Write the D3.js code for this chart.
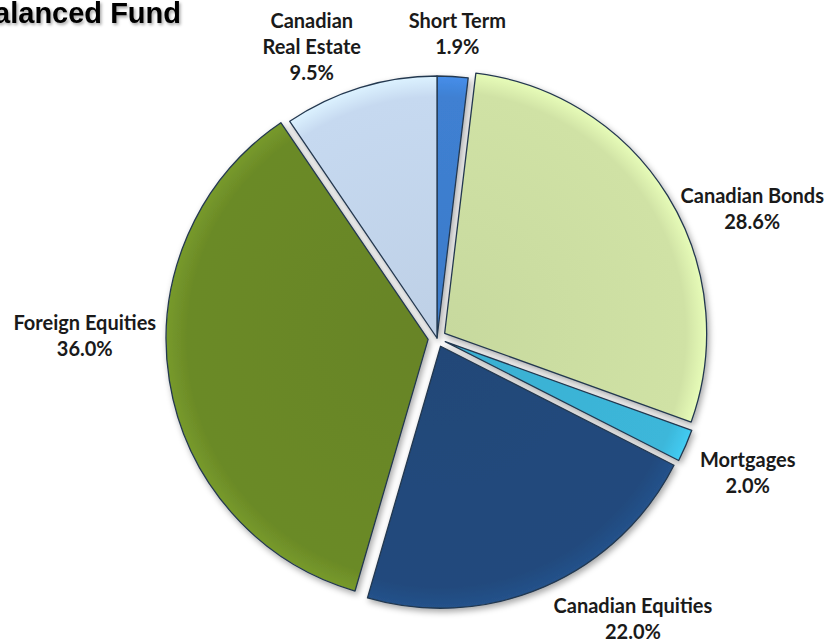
<!DOCTYPE html>
<html lang="en">
<head>
  <meta charset="UTF-8">
  <title>Balanced Fund</title>
  <script src="https://d3js.org/d3.v7.min.js"></script>
  <style>
    body { margin: 0; background: #fff; }
    svg { display: block; }
    .title { font: bold 29px "Liberation Sans", Arial, sans-serif; fill: #000; }
    .label { font: bold 20px Lato, "Open Sans", sans-serif; fill: #1a1a1a; text-anchor: middle; }
  </style>
</head>
<body>
  <script>
    // data, clockwise from 12 o'clock
    const categories = ["Short Term", "Canadian Bonds", "Mortgages", "Canadian Equities", "Foreign Equities", "Canadian Real Estate"];
    const values = [1.9, 28.6, 2.0, 22.0, 36.0, 9.5];
    const labelLines = [["Short Term"], ["Canadian Bonds"], ["Mortgages"], ["Canadian Equities"], ["Foreign Equities"], ["Canadian", "Real Estate"]];

    // look
    const colors = ["#3f80d2", "#d0e2a5", "#3cb7da", "#214a7d", "#6b8a27", "#c6d9f0"];
    const explode = [0, 9, 9, 9, 9, 0];
    const labelNudge = [[2, 2], [54, 32], [29, 13], [74, -1], [-49, -50], [-35, 2]];

    const W = 827, H = 643;
    const cx = 437, cy = 338, r = 262;

    const svg = d3.select("body").append("svg").attr("width", W).attr("height", H);
    const defs = svg.append("defs");

    const shadow = defs.append("filter").attr("id", "shadow")
      .attr("x", "-10%").attr("y", "-10%").attr("width", "130%").attr("height", "130%");
    shadow.append("feDropShadow").attr("dx", 2).attr("dy", 3).attr("stdDeviation", 3)
      .attr("flood-color", "#000").attr("flood-opacity", 0.35);

    const tshadow = defs.append("filter").attr("id", "tshadow");
    tshadow.append("feDropShadow").attr("dx", 1.5).attr("dy", 2).attr("stdDeviation", 1.5)
      .attr("flood-color", "#000").attr("flood-opacity", 0.35);

    // bevel-ish shading per slice (gradient centred on pie centre, local coords)
    colors.forEach((c, i) => {
      const g = defs.append("radialGradient").attr("id", "grad" + i)
        .attr("gradientUnits", "userSpaceOnUse")
        .attr("cx", 0).attr("cy", 0).attr("r", r);
      g.append("stop").attr("offset", "0%").attr("stop-color", d3.color(c).darker(0.12));
      g.append("stop").attr("offset", "92%").attr("stop-color", c);
      g.append("stop").attr("offset", "100%").attr("stop-color", d3.color(c).brighter(0.3));
    });

    const pie = d3.pie().sort(null).value(d => d).startAngle(0).endAngle(2 * Math.PI);
    const arcs = pie(values);

    const arc = d3.arc().innerRadius(0).outerRadius(r);
    const labelArc = d3.arc().innerRadius(r + 45).outerRadius(r + 45);

    const chart = svg.append("g").attr("transform", `translate(${cx},${cy})`);

    chart.append("g").attr("filter", "url(#shadow)")
      .selectAll("path")
      .data(arcs)
      .join("path")
      .attr("transform", (d, i) => {
        const a = (d.startAngle + d.endAngle) / 2;
        return `translate(${explode[i] * Math.sin(a)},${-explode[i] * Math.cos(a)})`;
      })
      .attr("d", arc)
      .attr("fill", (d, i) => `url(#grad${i})`)
      .attr("stroke", "#24384f")
      .attr("stroke-width", 1.3)
      .attr("stroke-linejoin", "round");

    const lineH = 26;
    chart.append("g")
      .selectAll("text")
      .data(arcs)
      .join("text")
      .attr("class", "label")
      .each(function (d, i) {
        const [x, y] = labelArc.centroid(d);
        const px = x + labelNudge[i][0];
        const py = y + labelNudge[i][1];
        const lines = labelLines[i].concat([d.data.toFixed(1) + "%"]);
        const top = py - (lines.length - 1) * lineH / 2;
        const t = d3.select(this);
        lines.forEach((ln, k) => {
          t.append("tspan").attr("x", px).attr("y", top + k * lineH).attr("dy", "0.35em").text(ln);
        });
      });

    svg.append("text")
      .attr("class", "title")
      .attr("x", 181)
      .attr("y", 23)
      .attr("text-anchor", "end")
      .attr("filter", "url(#tshadow)")
      .text("Balanced Fund");
  </script>
</body>
</html>
